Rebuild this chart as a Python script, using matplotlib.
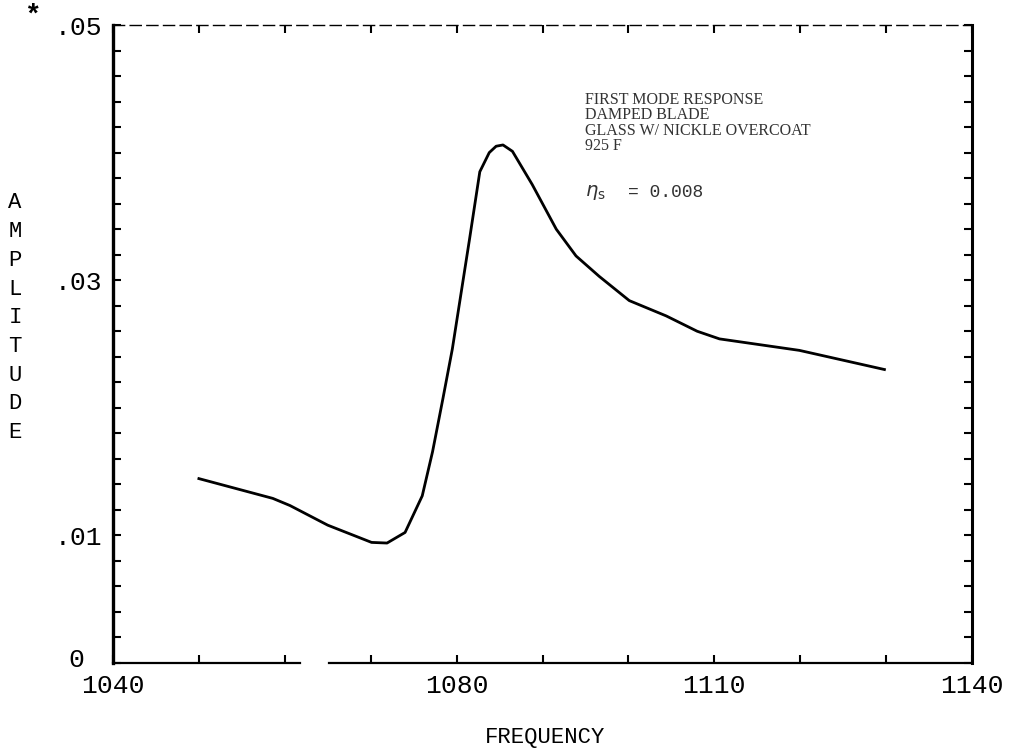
"""First mode response of a damped blade (glass w/ nickle overcoat, 925 F)."""

import numpy as np
import matplotlib
matplotlib.use("Agg")
import matplotlib.pyplot as plt
from matplotlib.transforms import ScaledTranslation

# curve
freq = [1050.0, 1058.6, 1060.6, 1065.0, 1070.1, 1071.9, 1074.0, 1076.0, 1077.2,
        1078.4, 1079.5, 1081.5, 1082.7, 1083.8, 1084.6, 1085.4, 1086.5, 1088.8,
        1091.6, 1093.9, 1096.6, 1100.1, 1104.4, 1108.0, 1110.6, 1119.9, 1129.8]
amplitude = [0.01445, 0.0129, 0.01234, 0.0108, 0.00945, 0.0094, 0.01023, 0.0131,
             0.01656, 0.0207, 0.0246, 0.0332, 0.0385, 0.0400, 0.0405, 0.0406,
             0.0401, 0.0375, 0.0340, 0.0319, 0.0303, 0.0284, 0.0272, 0.0260,
             0.0254, 0.0245, 0.0230]

x_ticks = list(range(1040, 1141, 10))
x_tick_labels = ["1040", "", "", "", "1080", "", "", "1110", "", "", "1140"]
y_ticks = [round(v, 3) for v in np.arange(0, 0.0501, 0.002)]
y_label_map = {0.0: "0", 0.01: ".01", 0.03: ".03", 0.05: ".05"}
y_tick_labels = [y_label_map.get(v, "") for v in y_ticks]

note_lines = ["FIRST MODE RESPONSE", "DAMPED BLADE",
              "GLASS W/ NICKLE OVERCOAT", "925 F"]
eta_symbol = r"$\eta_{\mathrm{s}}$"
eta_value = "= 0.008"

MONO = "Liberation Mono"

fig = plt.figure(figsize=(10.17, 7.51), dpi=100)
ax = fig.add_axes([0.1111, 0.1172, 0.8447, 0.8495])

ax.plot(freq, amplitude, color="black", lw=2.0, solid_joinstyle="round")

ax.set_xlim(1040, 1140)
ax.set_ylim(0, 0.05)
ax.set_xticks(x_ticks)
ax.set_xticklabels(x_tick_labels, fontsize=19, family=MONO)
ax.set_yticks(y_ticks)
ax.set_yticklabels(y_tick_labels, fontsize=19, family=MONO)
ax.tick_params(axis="both", direction="in", length=6, width=1.5,
               top=True, right=True, pad=8)

# the "0" sits further left and a bit higher than the other labels
for lbl in ax.get_yticklabels():
    if lbl.get_text() == "0":
        lbl.set_transform(lbl.get_transform() +
                          ScaledTranslation(-0.18, 0.05, fig.dpi_scale_trans))

# spines: heavy left/right, dashed top, bottom with a break
ax.spines["left"].set_linewidth(2.4)
ax.spines["right"].set_linewidth(2.2)
ax.spines["top"].set_linewidth(1.0)
ax.spines["top"].set_linestyle((0, (8, 4)))
ax.spines["bottom"].set_visible(False)
ax.axhline(0, xmin=0.0, xmax=0.218, color="black", lw=1.6, clip_on=False)
ax.axhline(0, xmin=0.252, xmax=1.0, color="black", lw=1.6, clip_on=False)

ax.text(0.549, 0.895, "\n".join(note_lines), transform=ax.transAxes,
        family="Liberation Serif", fontsize=11.5, color="#333333",
        va="top", ha="left", linespacing=0.95)
ax.text(0.549, 0.737, eta_symbol, transform=ax.transAxes,
        fontsize=14, color="#333333", va="center", ha="left")
ax.text(0.599, 0.737, eta_value, transform=ax.transAxes,
        family=MONO, fontsize=13, color="#333333", va="center", ha="left")

# axis titles in typewriter style
fig.text(545 / 1017, 1 - 737 / 751, "FREQUENCY", family=MONO, fontsize=16,
         ha="center", va="center")
for i, ch in enumerate("AMPLITUDE"):
    fig.text(15 / 1017, 1 - (203 + i * 28.7) / 751, ch, family=MONO,
             fontsize=16, ha="center", va="center")
fig.text(32 / 1017, 1 - 16 / 751, "*", family=MONO, fontsize=20,
         ha="center", va="center", fontweight="bold")

fig.savefig("out.png", dpi=100)
